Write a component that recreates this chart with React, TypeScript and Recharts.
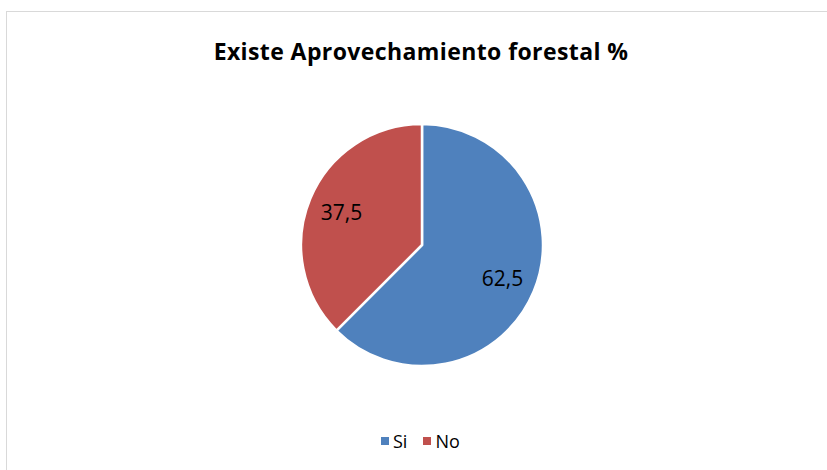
import React from "react";
import { PieChart, Pie, Cell } from "recharts";

const categories = ["Si", "No"];
const values = [62.5, 37.5];
const colors = ["#4F81BD", "#C0504D"];
const title = "Existe Aprovechamiento forestal %";

const data = categories.map((name, i) => ({ name, value: values[i] }));

const FONT = "'Open Sans', 'Liberation Sans', sans-serif";
const RADIAN = Math.PI / 180;

const renderLabel = (props: any) => {
  const { cx, cy, midAngle, outerRadius, value } = props;
  const r = outerRadius * 0.72;
  const x = cx + r * Math.cos(-midAngle * RADIAN);
  const y = cy + r * Math.sin(-midAngle * RADIAN);
  return (
    <text
      x={x}
      y={y}
      textAnchor="middle"
      dominantBaseline="central"
      fill="#000"
      fontFamily={FONT}
      fontSize={21}
    >
      {String(value).replace(".", ",")}
    </text>
  );
};

export default function App() {
  return (
    <div style={{ position: "absolute", left: 0, top: 0, width: 827, height: 470, overflow: "hidden", background: "#fff" }}>
      <div
        style={{
          position: "absolute",
          left: 6,
          top: 11,
          width: 840,
          height: 480,
          border: "1.5px solid #D9D9D9",
          boxSizing: "border-box",
        }}
      />
      <div
        style={{
          position: "absolute",
          left: 0,
          width: 842,
          top: 35,
          textAlign: "center",
          fontFamily: FONT,
          fontWeight: 700,
          fontSize: 23,
          color: "#000",
          letterSpacing: 0.4,
          whiteSpace: "nowrap",
        }}
      >
        {title}
      </div>
      <div style={{ position: "absolute", left: 0, top: 0 }}>
        <PieChart width={827} height={470}>
          <Pie
            data={data}
            dataKey="value"
            nameKey="name"
            cx={417}
            cy={240}
            outerRadius={121}
            startAngle={90}
            endAngle={-270}
            stroke="#fff"
            strokeWidth={2.5}
            label={renderLabel}
            labelLine={false}
            isAnimationActive={false}
          >
            {data.map((d, i) => (
              <Cell key={d.name} fill={colors[i]} />
            ))}
          </Pie>
        </PieChart>
      </div>
      <div
        style={{
          position: "absolute",
          left: 381,
          top: 429,
          display: "flex",
          alignItems: "center",
          fontFamily: FONT,
          fontSize: 18,
          color: "#000",
          whiteSpace: "nowrap",
        }}
      >
        {categories.map((c, i) => (
          <span key={c} style={{ display: "inline-flex", alignItems: "center", marginRight: i === 0 ? 16 : 0 }}>
            <span style={{ display: "inline-block", width: 8, height: 8, background: colors[i], marginRight: 4 }} />
            {c}
          </span>
        ))}
      </div>
    </div>
  );
}
